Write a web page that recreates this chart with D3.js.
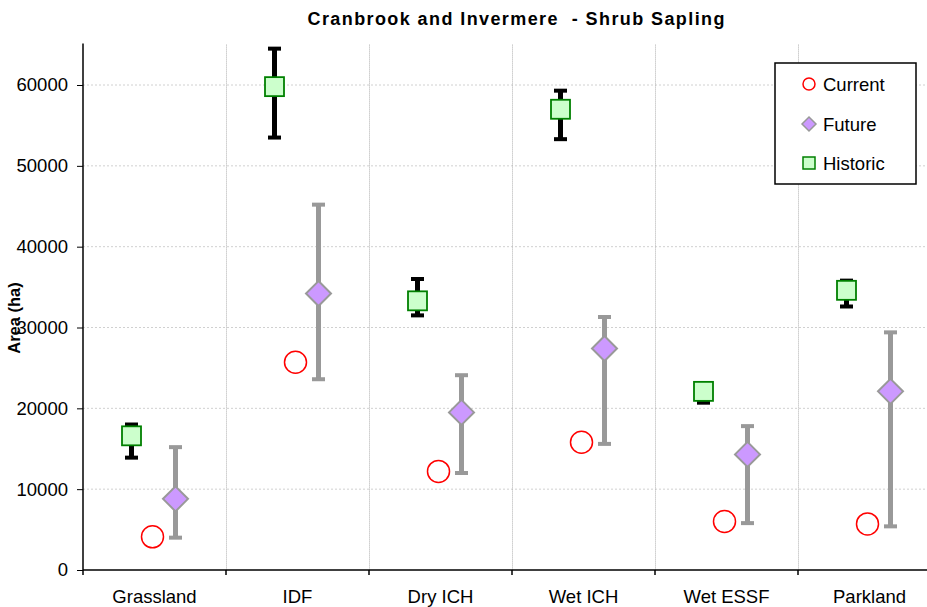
<!DOCTYPE html>
<html>
<head>
<meta charset="utf-8">
<script src="https://cdn.jsdelivr.net/npm/d3@7"></script>
<style>
  html, body { margin: 0; padding: 0; background: #fff; }
  svg { display: block; font-family: "Liberation Sans", Arial, sans-serif; }
</style>
</head>
<body>
<svg id="chart" width="927" height="607"></svg>
<script>
const categories = ["Grassland", "IDF", "Dry ICH", "Wet ICH", "Wet ESSF", "Parkland"];
const current = [4100, 25700, 12200, 15800, 6000, 5700];
const future = [8800, 34200, 19500, 27400, 14300, 22100];
const futureLow = [4000, 23600, 12000, 15600, 5800, 5400];
const futureHigh = [15200, 45200, 24100, 31300, 17800, 29400];
const historic = [16600, 59800, 33300, 57000, 22100, 34600];
const historicLow = [13900, 53500, 31500, 53300, 20700, 32600];
const historicHigh = [18000, 64500, 36000, 59300, 22500, 35800];
const yTicks = [0, 10000, 20000, 30000, 40000, 50000, 60000];
const seriesNames = ["Current", "Future", "Historic"];

const svg = d3.select("#chart");
const pLeft = 83, pRight = 941, pTop = 44.6, pBottom = 570;

const x = d3.scaleBand().domain(categories).range([pLeft, pRight]).padding(0);
const y = d3.scaleLinear().domain([0, 65000]).range([pBottom, pTop]);
const cx = c => x(c) + x.bandwidth() / 2;
const off = { Historic: -23, Current: -2, Future: 21 };

// horizontal gridlines
svg.append("g").selectAll("line").data(yTicks.filter(d => d > 0)).join("line")
  .attr("x1", pLeft).attr("x2", pRight)
  .attr("y1", d => y(d)).attr("y2", d => y(d))
  .attr("stroke", "#d0d0d0").attr("stroke-width", 1).attr("stroke-dasharray", "2,2");

// vertical separators
svg.append("g").selectAll("line").data(categories.slice(1)).join("line")
  .attr("x1", d => x(d) + 0.5).attr("x2", d => x(d) + 0.5)
  .attr("y1", pTop).attr("y2", pBottom)
  .attr("stroke", "#b0b0b0").attr("stroke-width", 1).attr("stroke-dasharray", "1,1");

// axes
const yAxis = d3.axisLeft(y).tickValues(yTicks).tickSize(6).tickPadding(9).tickFormat(d3.format("d"));
const gy = svg.append("g").attr("transform", `translate(${pLeft},0)`).call(yAxis);
gy.select(".domain").attr("stroke", "#000").attr("stroke-width", 1.5).attr("d", `M0,${pBottom}V${pTop - 1}`);
gy.selectAll(".tick line").attr("stroke", "#000");
gy.selectAll(".tick text").attr("font-size", "18.5px").attr("fill", "#000")
  .attr("font-family", "'Liberation Sans', Arial, sans-serif");

const xAxis = d3.axisBottom(x).tickSize(0).tickPadding(20);
const gx = svg.append("g").attr("transform", `translate(0,${pBottom})`).call(xAxis);
gx.select(".domain").attr("stroke", "#000").attr("stroke-width", 1.5).attr("d", `M${pLeft},0H${pRight}`);
gx.selectAll(".tick text").attr("font-size", "18.5px").attr("fill", "#000")
  .attr("font-family", "'Liberation Sans', Arial, sans-serif");
// boundary ticks
svg.append("g").selectAll("line").data(categories).join("line")
  .attr("x1", d => x(d)).attr("x2", d => x(d))
  .attr("y1", pBottom).attr("y2", pBottom + 5)
  .attr("stroke", "#000").attr("stroke-width", 1.5);

// Historic error bars
const hg = svg.append("g");
categories.forEach((c, i) => {
  const xx = cx(c) + off.Historic;
  hg.append("line").attr("x1", xx).attr("x2", xx)
    .attr("y1", y(historicLow[i])).attr("y2", y(historicHigh[i]))
    .attr("stroke", "#000").attr("stroke-width", 5);
  [historicLow[i], historicHigh[i]].forEach(v => {
    hg.append("line").attr("x1", xx - 6.5).attr("x2", xx + 6.5)
      .attr("y1", y(v)).attr("y2", y(v)).attr("stroke", "#000").attr("stroke-width", 4);
  });
});
// Future error bars
const fg = svg.append("g");
categories.forEach((c, i) => {
  const xx = cx(c) + off.Future;
  fg.append("line").attr("x1", xx).attr("x2", xx)
    .attr("y1", y(futureLow[i])).attr("y2", y(futureHigh[i]))
    .attr("stroke", "#999999").attr("stroke-width", 5);
  [futureLow[i], futureHigh[i]].forEach(v => {
    fg.append("line").attr("x1", xx - 6.5).attr("x2", xx + 6.5)
      .attr("y1", y(v)).attr("y2", y(v)).attr("stroke", "#999999").attr("stroke-width", 4);
  });
});

// Current circles
svg.append("g").selectAll("circle").data(categories).join("circle")
  .attr("cx", c => cx(c) + off.Current)
  .attr("cy", (c, i) => y(current[i]))
  .attr("r", 11).attr("fill", "#fff").attr("stroke", "#ff0000").attr("stroke-width", 1.5);

// Future diamonds
const diamond = (s) => `M0,${-s}L${s},0L0,${s}L${-s},0Z`;
svg.append("g").selectAll("path").data(categories).join("path")
  .attr("transform", (c, i) => `translate(${cx(c) + off.Future},${y(future[i])})`)
  .attr("d", diamond(12.5)).attr("fill", "#cc99ff").attr("stroke", "#999999").attr("stroke-width", 2);

// Historic squares
svg.append("g").selectAll("rect").data(categories).join("rect")
  .attr("x", c => cx(c) + off.Historic - 9.5)
  .attr("y", (c, i) => y(historic[i]) - 9.5)
  .attr("width", 19).attr("height", 19)
  .attr("fill", "#ccffcc").attr("stroke", "#008000").attr("stroke-width", 1.8);

// Title
svg.append("text").attr("x", 516).attr("y", 25).attr("text-anchor", "middle")
  .attr("font-size", "18px").attr("font-weight", "bold").attr("fill", "#000")
  .attr("textLength", 417).attr("lengthAdjust", "spacing")
  .style("white-space", "pre")
  .text("Cranbrook and Invermere  - Shrub Sapling");

// Y label
svg.append("text").attr("transform", "translate(20,318) rotate(-90)")
  .attr("text-anchor", "middle").attr("font-size", "16.5px").attr("font-weight", "bold")
  .text("Area (ha)");

// Legend
const lg = svg.append("g");
lg.append("rect").attr("x", 775).attr("y", 63).attr("width", 141).attr("height", 121)
  .attr("fill", "#fff").attr("stroke", "#000").attr("stroke-width", 1.5);
const ly = [84, 124, 163];
seriesNames.forEach((name, i) => {
  const sx = 809, sy = ly[i];
  if (name === "Current") {
    lg.append("circle").attr("cx", sx).attr("cy", sy).attr("r", 6)
      .attr("fill", "#fff").attr("stroke", "#ff0000").attr("stroke-width", 1.5);
  } else if (name === "Future") {
    lg.append("path").attr("transform", `translate(${sx},${sy})`).attr("d", diamond(7))
      .attr("fill", "#cc99ff").attr("stroke", "#999999").attr("stroke-width", 1.5);
  } else {
    lg.append("rect").attr("x", sx - 6).attr("y", sy - 6).attr("width", 12).attr("height", 12)
      .attr("fill", "#ccffcc").attr("stroke", "#008000").attr("stroke-width", 1.5);
  }
  lg.append("text").attr("x", 823).attr("y", sy + 6.5).attr("font-size", "18.5px").attr("fill", "#000").text(name);
});
</script>
</body>
</html>
